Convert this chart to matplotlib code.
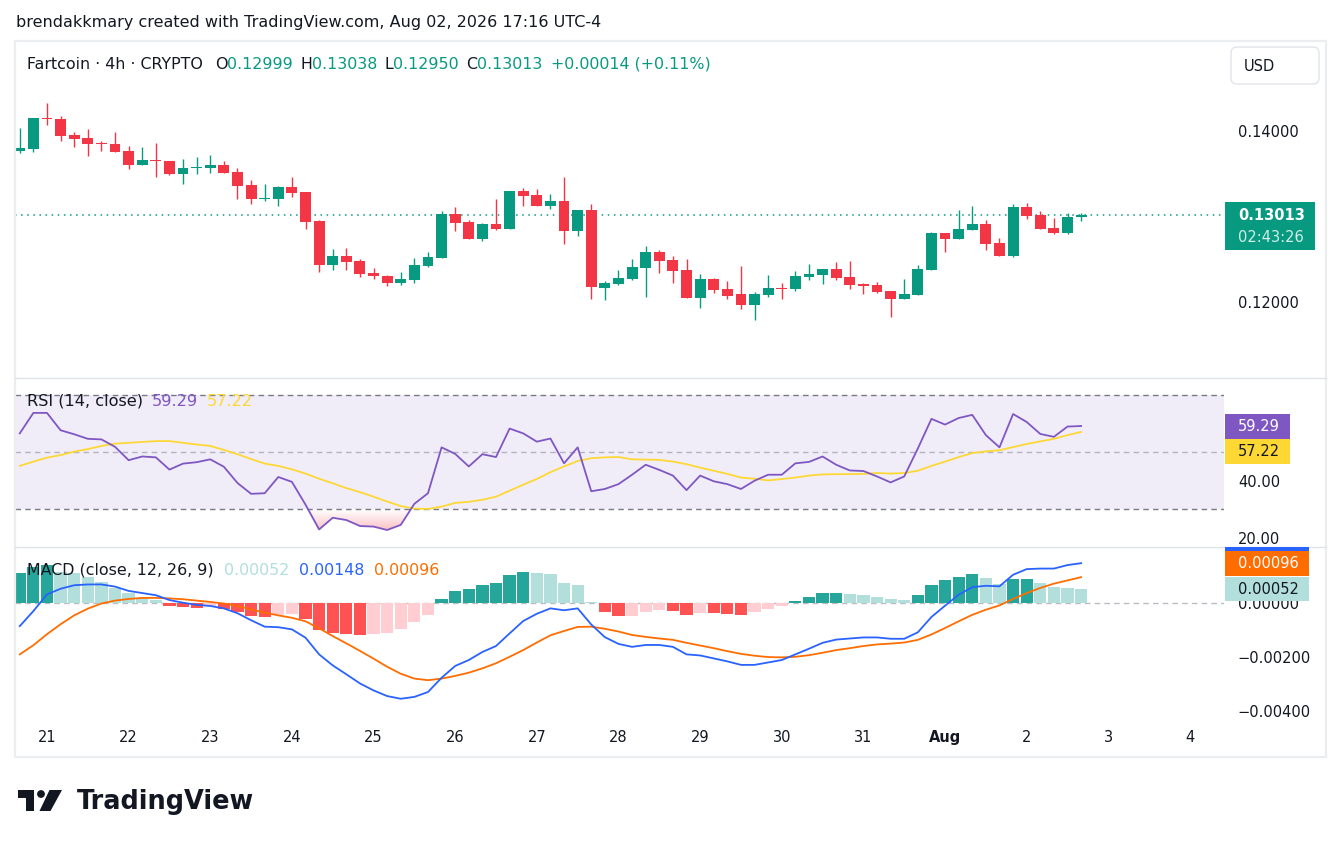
import matplotlib
matplotlib.use("Agg")
import matplotlib.pyplot as plt
import numpy as np
from matplotlib.patches import Rectangle, FancyBboxPatch, Polygon, Circle
from matplotlib.transforms import IdentityTransform
from matplotlib.path import Path

plt.rcParams['font.family'] = ['DejaVu Sans']

# ---------------- data ----------------
header = "brendakkmary created with TradingView.com, Aug 02, 2026 17:16 UTC-4"
symbol_title = "Fartcoin · 4h · CRYPTO"
currency = "USD"
countdown = "02:43:26"
change_text = "+0.00014 (+0.11%)"
first_bar_offset = -2          # 4h bars before Jul 21 00:00
bars_per_day = 6
day_labels = ['21', '22', '23', '24', '25', '26', '27', '28', '29', '30', '31', 'Aug', '2', '3', '4']

opens = [0.13770, 0.13789, 0.14152, 0.14140, 0.13953, 0.13918, 0.13863, 0.13848, 0.13766, 0.13606,
         0.13661, 0.13649, 0.13501, 0.13571, 0.13571, 0.13602, 0.13520, 0.13368, 0.13208, 0.13208,
         0.13345, 0.13287, 0.12947, 0.12436, 0.12538, 0.12480, 0.12339, 0.12304, 0.12226, 0.12261,
         0.12421, 0.12515, 0.13029, 0.12936, 0.12737, 0.12912, 0.12854, 0.13298, 0.13251, 0.13123,
         0.13181, 0.12830, 0.13076, 0.12164, 0.12211, 0.12269, 0.12398, 0.12585, 0.12491, 0.12374,
         0.12047, 0.12269, 0.12152, 0.12093, 0.11965, 0.12082, 0.12164, 0.12152, 0.12292, 0.12316,
         0.12386, 0.12292, 0.12211, 0.12199, 0.12129, 0.12035, 0.12082, 0.12374, 0.12807, 0.12737,
         0.12842, 0.12912, 0.12690, 0.12538, 0.13111, 0.13018, 0.12865, 0.12807, 0.12999]
highs = [0.14035, 0.14152, 0.14327, 0.14175, 0.13988, 0.14023, 0.13883, 0.13988, 0.13825, 0.13813,
         0.13860, 0.13649, 0.13673, 0.13696, 0.13719, 0.13649, 0.13567, 0.13427, 0.13380, 0.13357,
         0.13462, 0.13287, 0.12959, 0.12620, 0.12632, 0.12503, 0.12398, 0.12316, 0.12351, 0.12515,
         0.12585, 0.13064, 0.13111, 0.12959, 0.12924, 0.13205, 0.13298, 0.13333, 0.13322, 0.13263,
         0.13462, 0.13076, 0.13146, 0.12246, 0.12374, 0.12503, 0.12655, 0.12608, 0.12538, 0.12503,
         0.12327, 0.12281, 0.12246, 0.12421, 0.12117, 0.12316, 0.12222, 0.12363, 0.12444, 0.12386,
         0.12468, 0.12480, 0.12222, 0.12234, 0.12129, 0.12269, 0.12433, 0.12819, 0.12807, 0.13076,
         0.13123, 0.12959, 0.12749, 0.13146, 0.13158, 0.13064, 0.12983, 0.13041, 0.13038]
lows = [0.13746, 0.13758, 0.14074, 0.13883, 0.13816, 0.13711, 0.13770, 0.13758, 0.13556, 0.13606,
        0.13466, 0.13489, 0.13384, 0.13501, 0.13512, 0.13512, 0.13208, 0.13150, 0.13185, 0.13126,
        0.13232, 0.12857, 0.12354, 0.12378, 0.12378, 0.12296, 0.12273, 0.12191, 0.12202, 0.12226,
        0.12409, 0.12515, 0.12830, 0.12737, 0.12713, 0.12842, 0.12854, 0.13123, 0.13123, 0.13088,
        0.12678, 0.12772, 0.12035, 0.12023, 0.12199, 0.12257, 0.12058, 0.12339, 0.12222, 0.12047,
        0.11930, 0.12105, 0.12035, 0.11918, 0.11789, 0.12058, 0.12035, 0.12129, 0.12257, 0.12211,
        0.12257, 0.12152, 0.12094, 0.12105, 0.11825, 0.12035, 0.12082, 0.12374, 0.12585, 0.12737,
        0.12842, 0.12608, 0.12538, 0.12526, 0.12971, 0.12854, 0.12795, 0.12795, 0.12950]
closes = [0.13801, 0.14152, 0.14144, 0.13945, 0.13910, 0.13851, 0.13851, 0.13758, 0.13606, 0.13661,
          0.13653, 0.13501, 0.13567, 0.13579, 0.13602, 0.13512, 0.13360, 0.13208, 0.13216, 0.13345,
          0.13278, 0.12939, 0.12436, 0.12538, 0.12471, 0.12331, 0.12308, 0.12226, 0.12269, 0.12433,
          0.12526, 0.13029, 0.12924, 0.12737, 0.12912, 0.12854, 0.13298, 0.13240, 0.13123, 0.13181,
          0.12830, 0.13076, 0.12175, 0.12222, 0.12281, 0.12409, 0.12585, 0.12480, 0.12363, 0.12047,
          0.12269, 0.12140, 0.12070, 0.11965, 0.12093, 0.12164, 0.12152, 0.12304, 0.12327, 0.12386,
          0.12281, 0.12199, 0.12187, 0.12117, 0.12035, 0.12093, 0.12386, 0.12807, 0.12737, 0.12854,
          0.12912, 0.12678, 0.12538, 0.13111, 0.13006, 0.12854, 0.12807, 0.12994, 0.13013]

rsi = [56.7, 63.9, 63.9, 57.8, 56.4, 54.8, 54.6, 52.0, 47.3, 48.6,
       48.3, 44.0, 46.1, 46.6, 47.6, 45.0, 39.3, 35.5, 35.7, 41.4,
       39.7, 31.7, 23.0, 27.1, 26.3, 24.2, 24.0, 22.8, 24.6, 32.0,
       35.7, 51.8, 49.5, 45.1, 49.4, 48.4, 58.4, 56.7, 53.8, 54.9,
       46.2, 51.8, 36.4, 37.2, 38.9, 42.2, 45.7, 43.9, 41.9, 36.8,
       41.9, 39.9, 38.9, 37.2, 40.1, 42.2, 42.2, 46.2, 46.7, 48.6,
       45.7, 43.7, 43.5, 41.6, 39.5, 41.6, 51.4, 61.8, 59.8, 62.1,
       63.2, 56.1, 51.8, 63.5, 60.7, 56.5, 55.5, 59.1, 59.29]
rsi_ma = [45.3, 46.8, 48.2, 49.1, 50.3, 51.2, 52.3, 53.1, 53.4, 53.7,
          54.0, 54.0, 53.4, 52.8, 52.3, 50.9, 49.4, 47.7, 46.1, 45.3,
          44.1, 42.6, 40.8, 39.2, 37.5, 36.1, 34.5, 32.8, 31.2, 30.3,
          30.2, 31.0, 32.3, 32.7, 33.4, 34.5, 36.6, 38.7, 40.7, 43.1,
          45.1, 47.0, 48.0, 48.3, 48.4, 47.6, 47.5, 47.4, 46.8, 45.9,
          44.7, 43.6, 42.5, 41.2, 40.8, 40.2, 40.7, 41.2, 41.9, 42.3,
          42.4, 42.4, 42.5, 42.8, 42.6, 42.8, 43.6, 45.3, 46.8, 48.4,
          49.8, 50.4, 50.8, 51.9, 53.0, 53.9, 54.8, 56.1, 57.22]

macd = [-0.00086, -0.00030, 0.00032, 0.00053, 0.00066, 0.00069, 0.00069, 0.00061, 0.00045, 0.00037,
        0.00029, 0.00011, 0.00001, -0.00007, -0.00011, -0.00020, -0.00038, -0.00064, -0.00088, -0.00090,
        -0.00098, -0.00129, -0.00191, -0.00232, -0.00265, -0.00299, -0.00325, -0.00346, -0.00356, -0.00349,
        -0.00331, -0.00278, -0.00234, -0.00212, -0.00182, -0.00160, -0.00113, -0.00067, -0.00040, -0.00020,
        -0.00027, -0.00020, -0.00080, -0.00127, -0.00152, -0.00163, -0.00156, -0.00156, -0.00163, -0.00191,
        -0.00195, -0.00206, -0.00217, -0.00230, -0.00230, -0.00221, -0.00212, -0.00191, -0.00170, -0.00148,
        -0.00136, -0.00132, -0.00128, -0.00128, -0.00133, -0.00133, -0.00109, -0.00052, -0.00010, 0.00031,
        0.00059, 0.00064, 0.00062, 0.00105, 0.00126, 0.00128, 0.00128, 0.00141, 0.00148]
signal = [-0.00191, -0.00157, -0.00116, -0.00079, -0.00046, -0.00021, -0.00002, 0.00009, 0.00015, 0.00019,
          0.00019, 0.00017, 0.00014, 0.00009, 0.00004, -0.00002, -0.00011, -0.00024, -0.00036, -0.00046,
          -0.00055, -0.00068, -0.00094, -0.00123, -0.00150, -0.00178, -0.00207, -0.00237, -0.00263, -0.00281,
          -0.00287, -0.00281, -0.00271, -0.00259, -0.00243, -0.00224, -0.00200, -0.00175, -0.00147, -0.00120,
          -0.00104, -0.00089, -0.00088, -0.00096, -0.00106, -0.00119, -0.00126, -0.00132, -0.00137, -0.00148,
          -0.00158, -0.00168, -0.00179, -0.00189, -0.00196, -0.00201, -0.00202, -0.00200, -0.00194, -0.00185,
          -0.00175, -0.00168, -0.00160, -0.00154, -0.00151, -0.00147, -0.00137, -0.00117, -0.00093, -0.00068,
          -0.00044, -0.00025, -0.00009, 0.00015, 0.00037, 0.00056, 0.00072, 0.00084, 0.00096]
hist = [0.00112, 0.00133, 0.00141, 0.00116, 0.00112, 0.00098, 0.00079, 0.00057, 0.00036, 0.00020,
        0.00010, -0.00011, -0.00015, -0.00019, -0.00011, -0.00023, -0.00035, -0.00048, -0.00051, -0.00044,
        -0.00042, -0.00061, -0.00102, -0.00110, -0.00116, -0.00120, -0.00116, -0.00111, -0.00098, -0.00071,
        -0.00045, 0.00014, 0.00043, 0.00051, 0.00066, 0.00073, 0.00103, 0.00115, 0.00110, 0.00107,
        0.00076, 0.00068, 0.00005, -0.00035, -0.00049, -0.00048, -0.00035, -0.00027, -0.00028, -0.00046,
        -0.00038, -0.00039, -0.00042, -0.00046, -0.00035, -0.00023, -0.00012, 0.00009, 0.00023, 0.00038,
        0.00039, 0.00035, 0.00031, 0.00023, 0.00016, 0.00012, 0.00031, 0.00068, 0.00086, 0.00098,
        0.00109, 0.00094, 0.00072, 0.00090, 0.00091, 0.00075, 0.00060, 0.00057, 0.00052]

price_ticks = [0.12, 0.14]
rsi_ticks = [20, 40]
macd_ticks = [0.0, -0.002, -0.004]

# ---------------- style ----------------
UP = '#089981'
DN = '#F23645'
TXT = '#131722'
GRID = '#E0E3EB'
RSI_C = '#7E57C2'
RSIMA_C = '#FDD835'
MACD_C = '#2962FF'
SIG_C = '#FF6D00'
H_UP1, H_UP2, H_DN1, H_DN2 = '#26A69A', '#B2DFDB', '#FF5252', '#FFCDD2'
FS = 10.5
LFS = 11.4

W, H = 1341, 847
fig = plt.figure(figsize=(W / 100, H / 100), dpi=100)
fig.patch.set_facecolor('white')
ID = IdentityTransform()

PL, PR = 15, 1224


def add_ax(top, bottom):
    return fig.add_axes([PL / W, 1 - bottom / H, (PR - PL) / W, (bottom - top) / H])


ax_p = add_ax(42, 377)
ax_r = add_ax(378, 546)
ax_m = add_ax(547, 722)

t = np.arange(len(closes)) + first_bar_offset
O, Hh, L, C = map(np.array, (opens, highs, lows, closes))

for ax in (ax_p, ax_r, ax_m):
    ax.set_facecolor('none')
    for sp in ax.spines.values():
        sp.set_visible(False)
    ax.set_xlim(-2.35, 86.5)
    ax.yaxis.tick_right()
    ax.tick_params(axis='y', length=0, pad=10, labelsize=FS, labelcolor=TXT)
    ax.tick_params(axis='x', length=0, labelbottom=False)

# ---- price pane ----
up = C >= O
cols = np.where(up, UP, DN)
ax_p.vlines(t, L, Hh, colors=cols, lw=1.0, zorder=2)
body_lo = np.minimum(O, C)
body_h = np.maximum(np.abs(C - O), 0.00010)
ax_p.bar(t, body_h, bottom=body_lo, width=0.8, color=cols, lw=0, zorder=3)
ax_p.axhline(C[-1], color=UP, lw=1.1, ls=(0, (1, 3)), zorder=1)
ax_p.set_ylim(0.11123, 0.15041)
ax_p.set_yticks(price_ticks)
ax_p.set_yticklabels([f"{v:.5f}" for v in price_ticks])

# ---- RSI pane ----
rs = np.array(rsi)
ax_r.axhspan(30, 70, color=RSI_C, alpha=0.1, lw=0, zorder=0)
ax_r.axhline(70, color='#787B86', lw=1, ls=(0, (4, 3)), zorder=1)
ax_r.axhline(30, color='#787B86', lw=1, ls=(0, (4, 3)), zorder=1)
ax_r.axhline(50, color='#787B86', lw=1, ls=(0, (4, 3)), alpha=0.5, zorder=1)
fb = ax_r.fill_between(t, rs, 30, where=rs < 30, interpolate=True, facecolor='none', edgecolor='none')
paths = fb.get_paths()
if paths:
    clip = Path.make_compound_path(*paths)
    img = np.zeros((200, 1, 4))
    img[..., 0], img[..., 1], img[..., 2] = 0.949, 0.212, 0.271
    img[:, 0, 3] = np.linspace(0.55, 0.0, 200)
    im = ax_r.imshow(img, extent=[-3, 90, 17, 30], origin='lower', aspect='auto',
                     interpolation='bilinear', zorder=1.5)
    im.set_clip_path(clip, ax_r.transData)
ax_r.plot(t, rsi_ma, color=RSIMA_C, lw=1.3, zorder=3)
ax_r.plot(t, rs, color=RSI_C, lw=1.3, zorder=4)
ax_r.set_xlim(-2.35, 86.5)
ax_r.set_ylim(17.19, 76.14)
ax_r.set_yticks(rsi_ticks)
ax_r.set_yticklabels([f"{v:.2f}" for v in rsi_ticks])

# ---- MACD pane ----
hv = np.array(hist)
hcols = []
for i, v in enumerate(hv):
    prev = hv[i - 1] if i > 0 else (v - 1e-9 if v >= 0 else v + 1e-9)
    if v >= 0:
        hcols.append(H_UP1 if v > prev else H_UP2)
    else:
        hcols.append(H_DN1 if v < prev else H_DN2)
ax_m.axhline(0, color='#787B86', lw=1, ls=(0, (4, 3)), alpha=0.5, zorder=0.5)
ax_m.bar(t, hv, width=0.9, color=hcols, lw=0, zorder=1)
ax_m.plot(t, macd, color=MACD_C, lw=1.3, zorder=3)
ax_m.plot(t, signal, color=SIG_C, lw=1.3, zorder=2)
ax_m.set_ylim(-0.004424, 0.002082)
ax_m.set_yticks(macd_ticks)
ax_m.set_yticklabels([f"{v:.5f}".replace('-', '\u2212') for v in macd_ticks])
day_pos = np.arange(len(day_labels)) * bars_per_day
ax_m.set_xticks(day_pos)
ax_m.set_xticklabels(day_labels)
ax_m.tick_params(axis='x', length=0, labelbottom=True, pad=6, labelsize=FS, labelcolor=TXT)
for lab in ax_m.get_xticklabels():
    if lab.get_text().isalpha():
        lab.set_fontweight('bold')

# ---------------- helpers (pixel coords, y from top) ----------------
R = fig.canvas.get_renderer()


def ptext(x, y, s, color=TXT, size=FS, weight='normal', ha='left', va='center', z=10):
    return fig.text(x, H - y, s, color=color, fontsize=size, fontweight=weight,
                    ha=ha, va=va, transform=ID, zorder=z)


def prect(x0, y0, x1, y1, color, z=5):
    p = Rectangle((x0, H - y1), x1 - x0, y1 - y0, transform=ID, facecolor=color,
                  edgecolor='none', zorder=z)
    fig.add_artist(p)
    return p


def seq(x, y, pieces, size):
    for s, c, gap in pieces:
        tt = ptext(x, y, s, color=c, size=size)
        x += tt.get_window_extent(R).width + gap


def ypix(ax, v):
    return H - ax.transData.transform((0, v))[1]


# frame & separators
frame = Rectangle((14.5, H - 757), 1326 - 14.5, 757 - 40.5, transform=ID, facecolor='none',
                  edgecolor='#EBEDF1', lw=1.6, zorder=1)
fig.add_artist(frame)
for yy in (377.5, 546.5):
    fig.add_artist(plt.Line2D([15, 1326], [H - yy, H - yy], transform=ID, color=GRID, lw=1, zorder=1))

# header
ptext(16, 22, header, size=11.5)

# legends
seq(27, 64, [(symbol_title, TXT, 12), ("O", TXT, 0), (f"{opens[-1]:.5f}", UP, 7),
             ("H", TXT, 0), (f"{highs[-1]:.5f}", UP, 7), ("L", TXT, 0), (f"{lows[-1]:.5f}", UP, 7),
             ("C", TXT, 0), (f"{closes[-1]:.5f}", UP, 9), (change_text, UP, 0)], LFS)
seq(27, 401, [("RSI (14, close)", TXT, 9), (f"{rsi[-1]:.2f}", RSI_C, 9),
              (f"{rsi_ma[-1]:.2f}", RSIMA_C, 0)], 11.6)
seq(27, 570, [("MACD (close, 12, 26, 9)", TXT, 10), (f"{hist[-1]:.5f}", H_UP2, 10),
              (f"{macd[-1]:.5f}", MACD_C, 10), (f"{signal[-1]:.5f}", SIG_C, 0)], LFS)

# USD box
usd = FancyBboxPatch((1231, H - 84), 88, 37, boxstyle="round,pad=0,rounding_size=6",
                     transform=ID, facecolor='white', edgecolor=GRID, lw=1, zorder=5)
fig.add_artist(usd)
ptext(1244, 66, currency, size=FS)

# current price label
yc = ypix(ax_p, closes[-1])
prect(1225, yc - 13, 1315, yc + 35, UP)
ptext(1238, yc, f"{closes[-1]:.5f}", color='white', size=FS, weight='bold')
ptext(1238, yc + 22, countdown, color='#CFEFE8', size=FS)

# RSI labels
yr = ypix(ax_r, rsi[-1])
prect(1225, yr - 12.5, 1290, yr + 12.5, RSI_C)
ptext(1238, yr, f"{rsi[-1]:.2f}", color='white', size=FS)
prect(1225, yr + 12.5, 1290, yr + 37.5, RSIMA_C)
ptext(1238, yr + 25, f"{rsi_ma[-1]:.2f}", color=TXT, size=FS)

# MACD labels (stacked)
ym = ypix(ax_m, hist[-1])
prect(1225, ym - 12, 1309, ym + 12, H_UP2)
ptext(1238, ym, f"{hist[-1]:.5f}", color=TXT, size=FS)
prect(1225, ym - 38, 1309, ym - 13, SIG_C)
ptext(1238, ym - 25.5, f"{signal[-1]:.5f}", color='white', size=FS)
top_blue = max(547, ym - 64)
if ym - 39 > top_blue:
    prect(1225, top_blue, 1309, ym - 38, MACD_C)

# TradingView logo
logo_c = '#131722'
fig.add_artist(Polygon([(18, H - 790), (33.5, H - 790), (33.5, H - 811), (26, H - 811),
                        (26, H - 797.5), (18, H - 797.5)], closed=True, transform=ID,
                       facecolor=logo_c, edgecolor='none'))
fig.add_artist(Circle((41, H - 794), 3.9, transform=ID, facecolor=logo_c, edgecolor='none'))
fig.add_artist(Polygon([(49.5, H - 790), (62, H - 790), (50.5, H - 811), (39.5, H - 811)], closed=True,
                       transform=ID, facecolor=logo_c, edgecolor='none'))
tv = ptext(77, 802, "TradingView", color=logo_c, size=20, weight='bold')
wv = tv.get_window_extent(R).width
tv.set_fontsize(20 * 178 / wv)

fig.savefig("out.png", dpi=100, facecolor='white')
